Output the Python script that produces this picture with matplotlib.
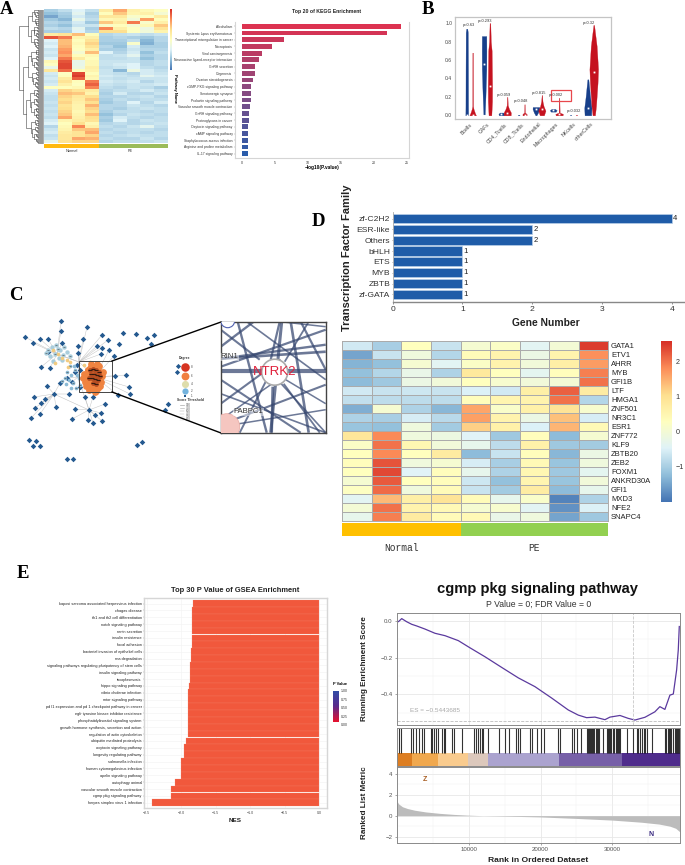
import matplotlib
matplotlib.use('Agg')
import matplotlib.pyplot as plt
import numpy as np
from matplotlib.colors import LinearSegmentedColormap, Normalize
from matplotlib.patches import Circle, Rectangle

plt.rcParams['font.family'] = ['Liberation Sans', 'DejaVu Sans']

W, H = 685, 865

# ---- panel A data
kegg_terms = ['Alcoholism', 'Systemic lupus erythematosus', 'Transcriptional misregulation in cancer', 'Necroptosis',
              'Viral carcinogenesis', 'Neuroactive ligand-receptor interaction', 'GnRH secretion', 'Oogenesis',
              'Ovarian steroidogenesis', 'cGMP-PKG signaling pathway', 'Serotonergic synapse', 'Prolactin signaling pathway',
              'Vascular smooth muscle contraction', 'GnRH signaling pathway', 'Proteoglycans in cancer', 'Oxytocin signaling pathway',
              'cAMP signaling pathway', 'Staphylococcus aureus infection', 'Arginine and proline metabolism', 'IL-17 signaling pathway']
kegg_values = [24.2, 22.0, 6.3, 4.6, 3.1, 2.6, 2.05, 2.0, 1.65, 1.35, 1.3, 1.3, 1.15, 1.05, 1.0, 0.98, 0.98, 0.95, 0.95, 0.95]

heat_a = [
    [-1.0, -0.8, -0.5, -0.8, 0.7, 1.5, 0.6, 0.4, 0.2],
    [-1.2, -1.0, -0.4, -1.0, 0.3, 1.2, 0.5, 0.6, 0.0],
    [-1.5, -1.1, -0.6, -0.9, 0.8, 0.8, 0.1, 0.2, 0.7],
    [-1.1, -1.3, -0.3, -0.8, 0.4, 0.5, -0.1, 1.6, 0.3],
    [-0.9, -1.0, -0.6, -1.1, 1.2, 0.7, 1.9, 0.1, 0.6],
    [-1.0, -1.2, -0.7, -0.7, 0.1, 0.3, 0.0, 0.4, 1.2],
    [-0.8, -0.9, -0.4, -1.0, 1.8, 0.6, 0.2, -0.2, 0.9],
    [-1.0, -1.0, -0.5, -0.9, 1.0, 1.0, 0.2, -0.1, 0.5],
    [0.7, 0.9, 1.3, 0.3, -0.9, -0.8, -0.7, -0.8, -0.7],
    [2.2, 1.9, 0.5, 0.6, -1.0, -0.9, -1.0, -1.1, -0.9],
    [-0.5, 1.3, 0.3, 0.9, -1.0, -1.0, -0.8, -1.3, -0.9],
    [-0.6, 1.3, 0.4, 1.1, -1.1, -1.1, 0.1, -1.4, -1.0],
    [-0.5, 1.4, 0.3, 0.9, -0.9, -1.2, -0.6, -1.0, -1.0],
    [-0.7, 1.6, 0.2, 0.6, -1.0, -1.0, -0.7, -0.9, -0.9],
    [-0.6, 1.7, 0.0, 1.3, -0.5, -0.9, -0.6, -1.2, -0.8],
    [-0.7, 1.5, 0.3, 0.4, -0.8, -0.7, -0.4, -1.0, -0.9],
    [-0.5, 1.9, 0.7, 0.3, -0.8, -0.8, -0.7, -1.2, -0.9],
    [0.4, 2.2, -0.3, 0.4, -0.7, -0.7, -0.7, -0.9, -0.8],
    [0.2, 2.3, -0.3, 0.4, -0.7, -0.6, -0.5, -0.9, -0.8],
    [-0.3, 2.3, -0.2, 0.6, -0.8, -0.7, -0.5, -0.8, -0.9],
    [0.8, 2.0, 0.3, 0.5, -0.7, -1.3, -0.2, -0.6, -0.8],
    [-0.6, 0.2, 2.3, 0.3, -0.7, -0.8, -0.9, -0.6, -0.7],
    [-0.7, 0.3, 2.4, 0.5, -0.6, -0.7, -0.8, -0.4, -0.6],
    [-0.6, 0.7, 2.1, 0.4, -0.7, -0.8, -0.7, -0.7, -0.7],
    [-0.7, 0.9, 0.3, 1.9, -0.6, -0.7, -0.6, -0.9, -0.7],
    [-0.6, 0.6, 0.2, 2.1, -0.7, -0.8, -0.7, -0.7, -0.6],
    [0.2, 0.3, 0.4, 1.8, -0.8, -0.9, -0.7, -0.8, -1.0],
    [-0.6, 1.1, 0.9, 0.7, -0.9, -0.8, -0.8, -0.6, -0.8],
    [-0.7, 1.3, 1.2, 0.5, -1.0, -0.6, -0.9, -0.9, -0.7],
    [-0.8, 1.1, 0.8, 1.0, -0.9, -0.9, -0.8, -0.7, -0.9],
    [-0.8, 1.0, 0.7, 1.2, -1.0, -0.8, -0.9, -0.8, -0.8],
    [-0.7, 1.1, 0.6, 1.0, -1.1, -0.9, -0.5, -0.9, -0.6],
    [-0.8, 0.9, 0.5, 1.4, -0.9, -0.9, -0.7, -0.8, -0.9],
    [-0.7, 1.0, 0.5, 1.1, -0.9, -1.0, -0.8, -0.7, -0.8],
    [-0.8, 1.1, 0.4, 1.0, -1.0, -0.8, -0.8, -0.9, -0.8],
    [-0.7, 1.2, 0.5, 1.3, -1.2, -0.9, -0.7, -0.8, -0.9],
    [-0.8, 1.5, 0.6, 1.0, -1.0, -0.6, -0.8, -0.9, -0.8],
    [-0.6, 0.5, 0.7, 0.9, -1.1, -0.5, -0.9, -0.7, -0.8],
    [-0.5, 0.3, 1.0, 0.4, -0.9, -0.8, -0.9, -0.8, -0.7],
    [-0.9, 0.4, 1.8, 0.6, -0.8, -0.9, -0.7, -0.4, -0.8],
    [-0.7, 0.5, 1.2, 1.3, -0.9, -0.8, -0.8, -0.8, -0.9],
    [-0.6, 0.7, 0.9, 1.5, -0.8, -0.9, -0.8, -0.9, -0.8],
    [-0.8, 0.8, 0.9, 1.1, -0.9, -0.8, -0.7, -0.8, -0.8],
    [-0.7, 0.8, 1.5, 1.4, -0.8, -0.9, -0.9, -0.7, -0.9],
    [-0.4, 0.9, 1.1, 1.1, -0.9, -0.8, -0.8, -0.8, -0.7],
]

# ---- panel B data
cell_types = ['Bcells', 'CAFs', 'CD4_Tcells', 'CD8_Tcells', 'Endothelial', 'Macrophages', 'NKcells', 'otherCells']
p_labels = ['p=0.63', 'p=0.293', 'p=0.059', 'p=0.048', 'p=0.815', 'p=0.002', 'p=0.032', 'p=0.32']
p_heights = [0.955, 1.0, 0.2, 0.135, 0.22, 0.2, 0.02, 0.985]
p_offsets = [-0.02, -0.12, -0.05, -0.05, -0.02, 0.0, 0.0, -0.1]
blue_y = [[0, 0.1, 0.5, 0.9, 0.94], [0.01, 0.2, 0.5, 0.7, 0.86], [0.0, 0.015, 0.03], [0.0, 0.003, 0.006], [0.0, 0.03, 0.07, 0.09],
          [0.04, 0.055, 0.07], [0.0, 0.002, 0.004], [0.0, 0.08, 0.2, 0.39]]
blue_w = [[0.08, 0.075, 0.07, 0.06, 0.03], [0.04, 0.08, 0.13, 0.135, 0.13], [0.14, 0.17, 0.1], [0.05, 0.05, 0.02], [0.03, 0.12, 0.2, 0.19],
          [0.14, 0.2, 0.1], [0.04, 0.04, 0.02], [0.19, 0.21, 0.13, 0.03]]
red_y = [[0, 0.025, 0.07, 0.1, 0.68], [0, 0.15, 0.32, 0.7, 0.8, 1.0], [0, 0.03, 0.07, 0.11, 0.2], [0, 0.015, 0.03, 0.12], [0, 0.05, 0.1, 0.15, 0.22],
         [0, 0.015, 0.03, 0.19], [0.0, 0.002, 0.004], [0, 0.1, 0.35, 0.5, 0.75, 0.98]]
red_w = [[0.19, 0.13, 0.05, 0.02, 0.015], [0.08, 0.12, 0.125, 0.1, 0.05, 0.02], [0.2, 0.21, 0.1, 0.03, 0.01], [0.12, 0.12, 0.02, 0.01], [0.12, 0.21, 0.1, 0.04, 0.01],
         [0.2, 0.22, 0.03, 0.01], [0.04, 0.04, 0.02], [0.07, 0.13, 0.22, 0.25, 0.17, 0.02]]
blue_medians = [0.0, 0.56, 0.015, None, 0.07, 0.055, None, 0.075]
red_medians = [0.0, 0.32, 0.03, 0.005, 0.065, 0.015, None, 0.47]

# ---- panel C data, node layout (pixels)
node_x = [61, 61, 87, 25, 33, 40, 48, 62, 83, 102, 108, 123, 136, 147, 154, 151, 119, 109, 102, 97, 101, 114, 78, 78, 48, 41, 50,
          115, 126, 47, 60, 129, 130, 118, 54, 69, 34, 45, 41, 35, 40, 31, 56, 75, 72, 85, 93, 105, 89, 88, 93, 102, 101, 95,
          168, 165, 29, 36, 33, 40, 142, 137, 67, 73, 67, 75, 80, 77, 72, 80]
node_y = [321, 331, 327, 337, 343, 339, 339, 343, 339, 335, 340, 333, 334, 338, 335, 344, 344, 350, 348, 346, 354, 356, 346, 353, 352, 367, 368,
          376, 375, 386, 383, 387, 394, 395, 394, 394, 397, 399, 403, 408, 414, 418, 407, 409, 419, 397, 397, 404, 410, 420, 423, 421, 413, 415,
          404, 410, 440, 441, 446, 446, 442, 445, 459, 459, 378, 372, 370, 365, 382, 387]
hub_x = [57, 78, 95, 89, 54, 79]
hub_y = [354, 377, 377, 410, 394, 362]
hub_from = [0, 1, 1, 1, 3, 5, 5]
hub_to = [5, 2, 3, 5, 4, 2, 0]

cluster_x = [48, 52, 56, 60, 64, 50, 55, 59, 63, 67, 46, 53, 58, 62, 70]
cluster_y = [350, 347, 345, 350, 347, 356, 354, 358, 355, 352, 353, 361, 349, 360, 356]
yellow_x = [53, 62, 67, 55, 70, 58, 90, 68, 84]
yellow_y = [350, 358, 360, 363, 362, 354, 362, 367, 365]

core_x = [84, 86, 88, 90, 92, 94, 96, 98, 100, 102, 85, 88, 91, 94, 97, 100, 87, 90, 93, 96, 99, 89, 92, 95, 98, 92, 96, 100, 94, 88,
          83, 101, 103, 86, 97, 91, 95, 89, 99, 93]
core_y = [374, 378, 370, 368, 367, 369, 368, 370, 373, 376, 382, 384, 373, 373, 374, 379, 376, 379, 378, 380, 384, 387, 385, 387, 388, 389, 391, 386, 384, 370,
          378, 382, 372, 386, 364, 364, 392, 390, 366, 375]
core_dark_x = [90, 93, 96, 99, 91, 94, 97, 100, 92, 95, 98, 93, 96, 89]
core_dark_y = [370, 369, 370, 372, 374, 374, 375, 376, 378, 379, 380, 383, 384, 378]
mid_x = [67, 71, 75, 79, 65, 69, 73, 77, 62, 71, 76, 66, 80, 74, 70]
mid_y = [372, 375, 370, 378, 378, 380, 383, 375, 381, 388, 388, 384, 385, 366, 366]

# inset edges, in inset coordinates (x, y from 0 to 105 / 0 to 111)
edge_from_x = [0, 17, 33, 61, 0, 105, 80, 70, 0, 0, 19, 52, 63, 105, 65, 0, 0, 26, 0, 105, 0, 88, 45, 59, 0]
edge_from_y = [49, 0, 0, 0, 45, 5, 0, 0, 82, 72, 111, 65, 62, 63, 58, 105, 58, 0, 8, 23, 37, 0, 45, 0, 98]
edge_to_x = [105, 46, 0, 50, 105, 60, 105, 88, 60, 105, 46, 51, 99, 13, 105, 105, 80, 105, 39, 0, 105, 64, 105, 50, 60]
edge_to_y = [49, 111, 25, 111, 8, 0, 48, 111, 38, 111, 58, 111, 111, 98, 82, 88, 111, 58, 38, 37, 30, 40, 111, 38, 56]
edge_width = [3.0, 1.7, 1.7, 2.2, 1.6, 1.1, 1.6, 1.9, 1.5, 1.2, 1.4, 1.9, 1.3, 1.5, 1.1, 1.1, 1.5, 1.2, 1.5, 1.7, 1.9, 1.3, 1.2, 1.6, 1.1]

# ---- panel D data
tf_families = ['zf-C2H2', 'ESR-like', 'Others', 'bHLH', 'ETS', 'MYB', 'ZBTB', 'zf-GATA']
tf_counts = [4, 2, 2, 1, 1, 1, 1, 1]
tf_genes = ['GATA1', 'ETV1', 'AHRR', 'MYB', 'GFI1B', 'LTF', 'HMGA1', 'ZNF501', 'NR3C1', 'ESR1', 'ZNF772', 'KLF9', 'ZBTB20', 'ZEB2',
            'FOXM1', 'ANKRD30A', 'GFI1', 'MXD3', 'NFE2', 'SNAPC4']
heat_d = [
    [-0.6, -1.0, 0.3, -0.7, 0.05, 0.2, -0.4, 0.0, 2.5],
    [-1.5, -0.7, -0.1, -0.9, 0.4, 0.6, -0.2, 0.6, 1.8],
    [-1.35, -1.2, 0.05, -0.4, 0.2, 0.6, -0.05, 0.7, 1.7],
    [-1.2, -0.9, -0.25, -0.95, 0.85, 0.3, -0.35, 0.35, 1.95],
    [-1.25, -1.1, -0.2, -0.05, 0.3, 0.1, -0.05, 0.0, 2.05],
    [-0.6, -0.7, -0.65, -0.7, -0.5, -0.6, 0.7, 2.2, 0.75],
    [-0.75, -0.8, -0.8, -0.8, 0.35, 0.55, 0.6, 2.05, -0.9],
    [-1.4, 0.05, -0.95, -1.3, 1.6, 0.15, 0.65, 0.95, 0.1],
    [-0.95, -1.0, -0.55, -0.85, 1.65, 0.6, -0.2, 1.35, -0.55],
    [-1.15, -1.2, -0.1, -1.05, 1.2, 0.65, -0.5, 1.45, 0.45],
    [0.9, 1.85, -0.1, -0.15, -0.45, -1.1, 0.35, -1.25, 0.05],
    [0.2, 2.05, 0.5, -0.05, -0.3, -0.8, 0.65, -1.1, -1.05],
    [0.3, 1.85, 0.3, 0.8, -1.25, -0.7, 0.35, -1.3, -0.2],
    [0.35, 2.3, -0.1, 0.05, -0.55, -1.0, 0.45, -1.15, -0.1],
    [0.3, 2.4, -0.45, 0.35, -0.3, -0.95, 0.5, -1.1, -0.35],
    [0.05, 2.25, 0.3, 0.35, -0.65, -1.2, 0.55, -1.15, -0.05],
    [0.25, 2.1, -0.1, 0.4, -0.7, -1.05, 0.75, -1.25, -0.3],
    [-0.4, 1.4, 0.7, 0.95, 0.4, -0.3, 0.15, -1.85, -0.95],
    [0.0, 2.05, 0.6, 0.45, 0.05, 0.1, -0.4, -1.7, -0.5],
    [-0.3, 1.95, 0.8, 0.4, 0.45, -0.25, -0.1, -1.5, -1.1],
]

# ---- panel E data
gsea_terms = ['kaposi sarcoma associated herpesvirus infection', 'chagas disease', 'th1 and th2 cell differentiation', 'notch signaling pathway',
              'renin secretion', 'insulin resistance', 'focal adhesion', 'bacterial invasion of epithelial cells', 'rna degradation',
              'signaling pathways regulating pluripotency of stem cells', 'insulin signaling pathway', 'toxoplasmosis', 'hippo signaling pathway',
              'vibrio cholerae infection', 'mtor signaling pathway', 'pd l1 expression and pd 1 checkpoint pathway in cancer',
              'egfr tyrosine kinase inhibitor resistance', 'phosphatidylinositol signaling system', 'growth hormone synthesis, secretion and action',
              'regulation of actin cytoskeleton', 'ubiquitin mediated proteolysis', 'oxytocin signaling pathway', 'longevity regulating pathway',
              'salmonella infection', 'human cytomegalovirus infection', 'apelin signaling pathway', 'autophagy animal',
              'vascular smooth muscle contraction', 'cgmp pkg signaling pathway', 'herpes simplex virus 1 infection']
gsea_nes = [-1.83, -1.84, -1.84, -1.84, -1.85, -1.85, -1.85, -1.86, -1.86, -1.87, -1.88, -1.88, -1.89, -1.9, -1.9, -1.9, -1.9, -1.9, -1.9,
            -1.9, -1.925, -1.955, -1.96, -2.01, -2.01, -2.01, -2.085, -2.145, -2.155, -2.42]

es_rank = [0, 230, 700, 1390, 2090, 2780, 3940, 5330, 6720, 8570, 10100, 12280, 14600, 16910, 19230, 21550, 23860, 25250, 26410, 27570,
           28960, 29660, 31050, 32210, 33130, 34520, 35910, 36600, 37300, 38000, 38470, 38930, 39160, 39300]
es_score = [0.0, -0.004, 0.013, -0.004, -0.018, -0.027, -0.044, -0.067, -0.08, -0.107, -0.144, -0.195, -0.253, -0.31, -0.358, -0.42, -0.485,
            -0.513, -0.527, -0.524, -0.538, -0.524, -0.515, -0.531, -0.54, -0.525, -0.495, -0.467, -0.482, -0.404, -0.398, -0.267, -0.158, -0.03]
hit_ranks = [324, 600, 1990, 2320, 2690, 3100, 3570, 3850, 4770, 4960, 5240, 5420, 5700, 6260, 6540, 6720, 7740, 8020, 9130, 10710, 10980, 11260,
             11540, 11820, 12050, 12650, 14230, 15060, 15620, 16550, 16820, 17100, 18590, 18860, 19470, 20070, 20440, 22390, 22670, 24330, 24700,
             25030, 25630, 26470, 26600, 26750, 26900, 27050, 27200, 27350, 27500, 27650, 27800, 27950, 28100, 28740, 29200, 29350, 29500, 29650,
             29800, 30130, 30280, 30430, 30580, 30730, 30880, 31030, 31980, 32910, 33370, 33600, 33850, 34100, 34350, 34600, 34760, 35460, 37310,
             37500, 37700, 37900, 38050, 38200, 38470, 38700, 38850, 39000, 39150, 39300]
strip_edges = [0, 2090, 5700, 9970, 12650, 22570, 31280, 39400]
strip_colors = ['#DD7E22', '#F0A84E', '#F9CB8E', '#DCC8BC', '#ABA3CF', '#7760A8', '#4F2C8C']
metric_rank = [0, 150, 300, 800, 1500, 2500, 4000, 6000, 8000, 10000, 12000, 15000, 20000, 25000, 30000, 34000, 36500, 38000, 38800, 39400]
metric_value = [1.5, 1.25, 1.1, 0.85, 0.68, 0.52, 0.36, 0.22, 0.12, 0.05, 0.0, -0.04, -0.12, -0.26, -0.42, -0.62, -0.8, -1.0, -1.2, -1.55]

pheat = LinearSegmentedColormap.from_list('pheat', ['#4575B4', '#91BFDB', '#E0F3F8', '#FFFFBF', '#FEE090', '#FC8D59', '#D73027'])

fig = plt.figure(figsize=(6.85, 8.65), dpi=100)


def px_ax(x0, y0, x1, y1):
    return fig.add_axes([x0 / W, 1 - y1 / H, (x1 - x0) / W, (y1 - y0) / H])


def clean(ax, color='#bbbbbb', lw=0.8):
    for s in ax.spines.values():
        s.set_color(color)
        s.set_linewidth(lw)


def gradient(ax, cmap):
    ax.imshow(np.linspace(1, 0, 128)[:, None], cmap=cmap, aspect='auto', extent=[0, 1, 0, 1])
    ax.set_xticks([])
    ax.set_yticks([])


# background layer in pixel coordinates: letters, network, connectors
bg = fig.add_axes([0, 0, 1, 1])
bg.set_xlim(0, W)
bg.set_ylim(H, 0)
bg.axis('off')

for letter, lx, ly in [('A', 7, 9), ('B', 428, 9), ('C', 16, 295), ('D', 318, 221), ('E', 23, 574)]:
    bg.text(lx, ly, letter, family='Liberation Serif', weight='bold', fontsize=13.5, ha='center', va='center')

# ---- A heatmap
ax = px_ax(44, 9, 168, 143)
ax.imshow(heat_a, cmap=pheat, vmin=-2, vmax=2.5, aspect='auto', interpolation='nearest')
ax.axis('off')

ax = px_ax(44, 144, 168, 148)
ax.barh([0], [4], left=[0], height=1, color='#FFB90F')
ax.barh([0], [5], left=[4], height=1, color='#9BBB59')
ax.set_xlim(0, 9)
ax.set_ylim(-0.5, 0.5)
ax.axis('off')
bg.text(72, 151, 'Normal', fontsize=2.8, ha='center', va='center', color='#333333')
bg.text(130, 151, 'PE', fontsize=2.8, ha='center', va='center', color='#333333')
ax = px_ax(170, 9, 172, 70)
gradient(ax, pheat)
ax.axis('off')
bg.text(175, 88, 'Pathway Name', fontsize=3, weight='bold', rotation=270, ha='center', va='center')

# dendrogram next to the heatmap
leaf_y = np.linspace(9.5, 142.5, 134)


def draw_tree(lo, hi, level):
    if lo == hi:
        return leaf_y[lo], 43.5
    cut = lo + max(1, int((hi - lo + 1) * (0.3 + 0.13 * (level % 3))))
    y1, x1 = draw_tree(lo, cut - 1, level + 1)
    y2, x2 = draw_tree(cut, hi, level + 1)
    x = 43 - 1.5 - 22 * ((hi - lo + 1) / 134) ** 0.42
    bg.plot([x1, x, x, x2], [y1, y1, y2, y2], color='#444444', lw=0.4)
    return (y1 + y2) / 2, x


draw_tree(0, 133, 0)

# ---- A bars
ax = px_ax(235, 22, 409, 158)
ypos = np.arange(len(kegg_values))
blue_red = LinearSegmentedColormap.from_list('br', ['#DC3250', '#8A4A80', '#2A5CAA'])
ax.barh(ypos, kegg_values, height=0.72, color=[blue_red(i / 19) for i in ypos])
ax.set_xlim(-1.06, 25.34)
ax.set_ylim(19.65, -0.65)
ax.set_yticks(ypos, kegg_terms, fontsize=2.45, color='#333333')
ax.set_xticks([0, 5, 10, 15, 20, 25], ['0', '5', '10', '15', '20', '25'], fontsize=2.6, color='#333333')
ax.tick_params(length=1, width=0.3, pad=0.8, color='#888888')
ax.set_xlabel('\u2212log10(P.value)', fontsize=3.4, weight='bold', labelpad=0.5)
clean(ax, '#d5d5d5', 0.8)
ax.spines['top'].set_visible(False)
bg.text(327, 11.5, 'Top 20 of KEGG Enrichment', fontsize=3.7, weight='bold', ha='center', va='center', color='#222222')

# ---- B violins
ax = px_ax(455, 16.7, 610.7, 119)
for i in range(8):
    ax.fill_betweenx(blue_y[i], i - 0.17 - np.array(blue_w[i]), i - 0.17 + np.array(blue_w[i]), color='#173F8A', lw=0.2)
    ax.fill_betweenx(red_y[i], i + 0.17 - np.array(red_w[i]), i + 0.17 + np.array(red_w[i]), color='#C5121F', lw=0.2)
    if blue_medians[i] is not None:
        ax.plot(i - 0.17, blue_medians[i], 's', ms=1.3, color='white', mew=0)
    if red_medians[i] is not None:
        ax.plot(i + 0.17, red_medians[i], 's', ms=1.3, color='white', mew=0)
    ax.text(i + p_offsets[i], p_heights[i], p_labels[i], fontsize=2.9, ha='center', va='bottom', color='#333333')
ax.add_patch(Rectangle((4.72, 0.155), 1.13, 0.125, fill=False, ec='#E8474C', lw=0.9, clip_on=False))
ax.set_xlim(-0.85, 8.15)
ax.set_ylim(-0.04, 1.07)
ax.set_yticks([0, 0.2, 0.4, 0.6, 0.8, 1.0], ['0.0', '0.2', '0.4', '0.6', '0.8', '1.0'], fontsize=3.6, color='#444444')
ax.set_xticks(np.arange(8), cell_types, fontsize=3.8, color='#444444', rotation=45, ha='right', rotation_mode='anchor')
ax.tick_params(length=0, pad=2)
clean(ax, '#c4c4c4', 0.9)

# ---- C network
for nx, ny in zip(node_x, node_y):
    d = [(nx - hx) ** 2 + (ny - hy) ** 2 for hx, hy in zip(hub_x, hub_y)]
    k = int(np.argmin(d))
    if d[k] < 40 ** 2:
        bg.plot([nx, hub_x[k]], [ny, hub_y[k]], color='#c4c4c4', lw=0.35, zorder=1)
for a, b in zip(hub_from, hub_to):
    bg.plot([hub_x[a], hub_x[b]], [hub_y[a], hub_y[b]], color='#c4c4c4', lw=0.4, zorder=1)
bg.scatter(node_x, node_y, s=8, marker='D', color='#24598F', lw=0, zorder=3)
bg.scatter(cluster_x, cluster_y, s=10, color='#A9CDDC', lw=0, zorder=3)
bg.scatter(yellow_x, yellow_y, s=7, color='#F1CB80', lw=0, zorder=4)
bg.scatter(mid_x, mid_y, s=7, color='#8CBBD6', lw=0, zorder=3)
bg.scatter(core_x, core_y, s=24, color='#EF8340', lw=0, zorder=4)
bg.scatter(core_dark_x, core_dark_y, s=12, color='#B04A20', lw=0, zorder=5)
bg.scatter(core_dark_x, core_dark_y, s=6, marker='_', color='#20140c', lw=0.6, zorder=6)
bg.scatter(cluster_x[::2], cluster_y[::2], s=4, marker='_', color='#444444', lw=0.4, zorder=5)
bg.scatter(mid_x[::2], mid_y[::2], s=4, marker='_', color='#444444', lw=0.4, zorder=5)

bg.add_patch(Rectangle((79, 361), 33, 31, fill=False, ec='#444444', lw=0.7, zorder=7))
bg.plot([112, 221], [361, 322], color='black', lw=1, zorder=7)
bg.plot([112, 221], [392, 433], color='black', lw=1, zorder=7)

# network legend
bg.text(185, 357.5, 'Degree', fontsize=2.4, weight='bold', ha='center', va='center', color='#333333')
for ly, size, col, lab in [(367, 38, '#D63422', '8'), (375.7, 32, '#F07F40', '6'), (384, 26, '#DEDDAB', '4'), (391, 20, '#74B3DD', '2'), (395.7, 4, '#24598F', '1')]:
    bg.scatter([185], [ly], s=size, color=col, lw=0, marker='s' if lab == '1' else 'o')
    bg.text(191, ly, lab, fontsize=2.2, va='center', color='#444444')
bg.scatter([178, 177], [366, 372], s=7, marker='D', color='#24598F', lw=0)
bg.text(190, 400, 'Score Threshold', fontsize=2.4, weight='bold', ha='center', va='center', color='#333333')
for ly, lab, lw in [(405, '900', 0.5), (408, '750', 0.4), (411, '600', 0.35), (414, '450', 0.3), (417, '300', 0.25), (420, '150', 0.2)]:
    bg.plot([180, 184], [ly, ly], color='#aaaaaa', lw=lw)
    bg.text(186, ly, lab, fontsize=2.1, va='center', color='#555555')

# ---- C inset
ax = px_ax(220.7, 321.7, 325.7, 432.7)
for xa, ya, xb, yb, lw in zip(edge_from_x, edge_from_y, edge_to_x, edge_to_y, edge_width):
    ax.plot([xa, xb], [ya, yb], color='#35466F', lw=lw, alpha=0.72, solid_capstyle='butt')
ax.add_patch(Circle((6, 105), 13, fc='#F5C6C0', ec='#E8A9A2', lw=0.5, zorder=4))
ax.add_patch(Circle((7, -1), 7, fc='white', ec='#5060B0', lw=0.8, zorder=4))
ax.add_patch(Circle((54, 50.5), 13, fc='white', ec='#aaaaaa', lw=1.2, zorder=4))
ax.text(54, 50.5, 'NTRK2', color='#E0203A', fontsize=9.5, ha='center', va='center', zorder=5)
ax.text(0, 35, 'RIN1', color='#333333', fontsize=5.6, ha='left', va='center', zorder=5,
        bbox=dict(fc='white', ec='none', alpha=0.5, pad=0.3))
ax.text(13, 90, 'PABPC1', color='#333333', fontsize=5.6, ha='left', va='center', zorder=5,
        bbox=dict(fc='white', ec='none', alpha=0.5, pad=0.3))
ax.set_xlim(0, 105)
ax.set_ylim(111, 0)
ax.set_xticks([])
ax.set_yticks([])
clean(ax, '#444444', 1.0)

# ---- D bars
ax = px_ax(392.7, 212, 684, 302)
ypos = np.arange(len(tf_counts))
ax.barh(ypos, tf_counts, height=0.84, color='#1F5CA8', edgecolor='#B9CFE8', lw=0.5)
for yy, val in zip(ypos, tf_counts):
    ax.text(val + 0.015, yy, str(val), fontsize=5.6, va='center', ha='left', color='#222222')
ax.set_xlim(0, 4.176)
ax.set_ylim(7.7, -0.6)
ax.set_yticks(ypos, tf_families, fontsize=6.1, color='#333333')
ax.set_xticks([0, 1, 2, 3, 4], ['0', '1', '2', '3', '4'], fontsize=6.1, color='#333333')
ax.tick_params(axis='y', length=1, width=0.4, pad=0.8, color='#666666')
ax.tick_params(axis='x', length=1.5, width=0.5, pad=1.5, color='#666666')
ax.spines['top'].set_visible(False)
ax.spines['right'].set_visible(False)
ax.spines['left'].set_color('#aaaaaa')
ax.spines['left'].set_linewidth(0.6)
ax.spines['bottom'].set_color('#888888')
ax.spines['bottom'].set_linewidth(1)
bg.text(546, 323, 'Gene Number', fontsize=7.4, weight='bold', ha='center', va='center', color='#222222')
bg.text(347, 258, 'Transcription Factor Family', fontsize=8, weight='bold', rotation=90, ha='center', va='center', color='#222222')

# ---- D heatmap
ax = px_ax(342.3, 341, 608.3, 521)
ax.pcolormesh(np.array(heat_d), cmap=pheat, norm=Normalize(-2.0, 2.6), edgecolors='#ababab', linewidth=0.7)
ax.set_ylim(20, 0)
ax.set_xticks([])
ax.yaxis.tick_right()
ax.set_yticks(np.arange(20) + 0.5, tf_genes, fontsize=5.5, color='#222222')
ax.tick_params(length=0, pad=2)
clean(ax, '#ababab', 0.7)

ax = px_ax(342.3, 522.7, 608.3, 535.7)
ax.barh([0], [4], left=[0], height=1, color='#FFC000')
ax.barh([0], [5], left=[4], height=1, color='#92D050')
ax.set_xlim(0, 9)
ax.set_ylim(-0.5, 0.5)
ax.axis('off')
bg.text(401.7, 548, 'Normal', family='Liberation Mono', fontsize=6.9, ha='center', va='center', color='#333333')
bg.text(534, 548, 'PE', family='Liberation Mono', fontsize=6.9, ha='center', va='center', color='#333333')

ax = px_ax(661, 341, 672, 501.7)
ax.imshow(np.linspace(2.6, -2.0, 128)[:, None], cmap=pheat, aspect='auto', extent=[0, 1, -2.0, 2.6], vmin=-2.0, vmax=2.6)
ax.set_xticks([])
ax.yaxis.tick_right()
ax.set_yticks([2, 1, 0, -1], ['2', '1', '0', '\u22121'], fontsize=5.2, color='#333333')
ax.tick_params(length=0, pad=2.5)
for s in ax.spines.values():
    s.set_visible(False)

# ---- E bars
ax = px_ax(144, 597.7, 326.7, 808.3)
ypos = np.arange(len(gsea_nes))
ax.barh(ypos, gsea_nes, height=0.985, color='#F1583C', edgecolor='#F58B74', lw=0.15)
ax.set_xlim(-2.54, 0.11)
ax.set_ylim(29.8, -0.85)
ax.grid(color='#f2f2f2', lw=0.4)
ax.set_axisbelow(True)
ax.set_yticks(ypos, gsea_terms, fontsize=2.75, color='#222222')
ax.set_xticks([-2.5, -2, -1.5, -1, -0.5, 0], ['\u22122.5', '\u22122.0', '\u22121.5', '\u22121.0', '\u22120.5', '0.0'], fontsize=2.6, color='#444444')
ax.tick_params(length=0.8, width=0.3, pad=0.8, color='#888888')
clean(ax, '#d6d6d6', 1.0)
bg.text(235, 590, 'Top 30 P Value of GSEA Enrichment', fontsize=5.4, weight='bold', ha='center', va='center', color='#222222')
bg.text(235, 820, 'NES', fontsize=4.6, weight='bold', ha='center', va='center', color='#222222')

ax = px_ax(333, 690.7, 339, 722.3)
gradient(ax, LinearSegmentedColormap.from_list('pv', ['#E8112D', '#5A2A8C', '#2F4FA8']))
ax.axis('off')
bg.text(333, 684, 'P Value', fontsize=2.9, weight='bold', va='center')
for ly, lab in [(689.5, '1.00'), (698, '0.75'), (706, '0.50'), (714.5, '0.25'), (723, '0.00')]:
    bg.text(341, ly + 2, lab, fontsize=2.5, va='center', color='#333333')

# ---- GSEA running score
ax = px_ax(396.7, 613.3, 680, 725)
ax.plot(es_rank, es_score, color='#5B3A9E', lw=0.9)
ax.axhline(-0.5443685, color='#bdbdbd', ls='--', lw=0.6)
ax.axvline(32860, color='#c8c8c8', ls='--', lw=0.6)
ax.text(1850, -0.49, 'ES = \u22120.5443685', fontsize=4.6, color='#a8a8a8', va='center')
ax.set_xlim(0, 39400)
ax.set_ylim(-0.567, 0.042)
ax.set_xticks([10000, 20000, 30000], [])
ax.set_xticks([5000, 15000, 25000, 35000], minor=True)
ax.set_yticks([0, -0.2, -0.4], ['0.0', '\u22120.2', '\u22120.4'], fontsize=4.4, color='#555555')
ax.set_yticks([-0.1, -0.3, -0.5], minor=True)
ax.grid(which='major', color='#e8e8e8', lw=0.6)
ax.grid(which='minor', color='#f2f2f2', lw=0.35)
ax.set_axisbelow(True)
ax.tick_params(which='both', axis='x', length=0)
ax.tick_params(which='minor', axis='y', length=0)
ax.tick_params(axis='y', length=1.5, width=0.4, pad=1.5, color='#666666')
clean(ax, '#8a8a8a', 0.7)

ax = px_ax(396.7, 728, 680, 765.7)
ax.vlines(hit_ranks, 0.33, 1, color='black', lw=0.8, alpha=0.8)
for k, col in enumerate(strip_colors):
    ax.axvspan(strip_edges[k], strip_edges[k + 1], 0, 0.33, color=col, lw=0)
ax.set_xlim(0, 39400)
ax.set_ylim(0, 1)
ax.set_xticks([])
ax.set_yticks([])
clean(ax, '#8a8a8a', 0.7)

ax = px_ax(396.7, 766.7, 680, 842.7)
ax.fill_between(metric_rank, metric_value, 0, color='#bcbcbc', lw=0)
ax.text(3900, 3.45, 'Z', color='#A65A1E', fontsize=5, weight='bold', ha='center', va='center')
ax.text(35400, -1.75, 'N', color='#3A2A80', fontsize=5, weight='bold', ha='center', va='center')
ax.set_xlim(0, 39400)
ax.set_ylim(-2.57, 4.66)
ax.set_xticks([10000, 20000, 30000], ['10000', '20000', '30000'], fontsize=4.4, color='#555555')
ax.set_xticks([5000, 15000, 25000, 35000], minor=True)
ax.set_yticks([4, 2, 0, -2], ['4', '2', '0', '\u22122'], fontsize=4.4, color='#555555')
ax.set_yticks([3, 1, -1], minor=True)
ax.grid(which='major', color='#e8e8e8', lw=0.6)
ax.grid(which='minor', color='#f2f2f2', lw=0.35)
ax.set_axisbelow(True)
ax.tick_params(which='minor', length=0)
ax.tick_params(length=1.5, width=0.4, pad=1.5, color='#666666')
clean(ax, '#8a8a8a', 0.7)

bg.text(538, 589, 'cgmp pkg signaling pathway', fontsize=10.6, weight='bold', ha='center', va='center', color='#111111')
bg.text(538.5, 604, 'P Value = 0; FDR Value = 0', fontsize=6.2, ha='center', va='center', color='#333333')
bg.text(365, 669, 'Running Enrichment Score', fontsize=5.9, weight='bold', rotation=90, ha='center', va='center', color='#222222')
bg.text(365, 803, 'Ranked List Metric', fontsize=5.9, weight='bold', rotation=90, ha='center', va='center', color='#222222')
bg.text(538, 860, 'Rank in Ordered Dataset', fontsize=6.1, weight='bold', ha='center', va='center', color='#222222')

fig.savefig('out.png', dpi=100)
